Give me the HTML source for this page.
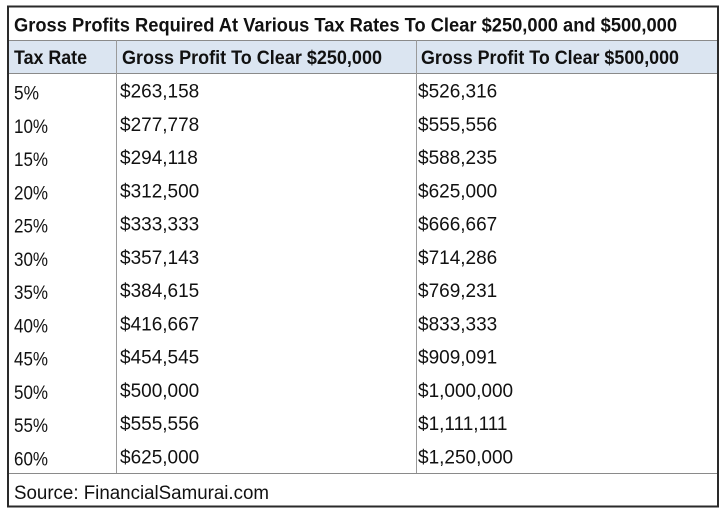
<!DOCTYPE html>
<html><head><meta charset="utf-8"><style>
html,body{margin:0;padding:0;background:#fff;}
svg{display:block;}
text{font-family:"Liberation Sans",sans-serif;fill:#111;}
.b{font-weight:bold;font-size:19.5px;}
.d{font-size:19px;}
</style></head><body>
<svg width="728" height="515" viewBox="0 0 728 515" xmlns="http://www.w3.org/2000/svg">
<rect x="0" y="0" width="728" height="515" fill="#fff"/>
<rect x="9" y="40" width="708" height="33.5" fill="#dbe5f1"/>
<line x1="9" y1="40.5" x2="717" y2="40.5" stroke="#8a8a8a" stroke-width="1"/>
<line x1="9" y1="73.5" x2="717" y2="73.5" stroke="#8a8a8a" stroke-width="1"/>
<line x1="9" y1="473.5" x2="717" y2="473.5" stroke="#8a8a8a" stroke-width="1"/>
<line x1="116.5" y1="40" x2="116.5" y2="473" stroke="#9a9a9a" stroke-width="1"/>
<line x1="416.5" y1="40" x2="416.5" y2="473" stroke="#9a9a9a" stroke-width="1"/>
<rect x="8" y="6.5" width="710" height="500" fill="none" stroke="#2a2a2a" stroke-width="2"/>
<text class="b" x="14" y="31.5" textLength="663" lengthAdjust="spacingAndGlyphs">Gross Profits Required At Various Tax Rates To Clear $250,000 and $500,000</text>
<text class="b" x="14" y="64" textLength="73" lengthAdjust="spacingAndGlyphs">Tax Rate</text>
<text class="b" x="122" y="64" textLength="260" lengthAdjust="spacingAndGlyphs">Gross Profit To Clear $250,000</text>
<text class="b" x="421" y="64" textLength="258" lengthAdjust="spacingAndGlyphs">Gross Profit To Clear $500,000</text>
<g class="d">
<text class="d" x="14" y="99.5" textLength="25" lengthAdjust="spacingAndGlyphs">5%</text><text class="d" x="120" y="97.5">$263,158</text><text class="d" x="418" y="97.5">$526,316</text>
<text class="d" x="14" y="132.8" textLength="34" lengthAdjust="spacingAndGlyphs">10%</text><text class="d" x="120" y="130.8">$277,778</text><text class="d" x="418" y="130.8">$555,556</text>
<text class="d" x="14" y="166" textLength="34" lengthAdjust="spacingAndGlyphs">15%</text><text class="d" x="120" y="164">$294,118</text><text class="d" x="418" y="164">$588,235</text>
<text class="d" x="14" y="199.3" textLength="34" lengthAdjust="spacingAndGlyphs">20%</text><text class="d" x="120" y="197.3">$312,500</text><text class="d" x="418" y="197.3">$625,000</text>
<text class="d" x="14" y="232.6" textLength="34" lengthAdjust="spacingAndGlyphs">25%</text><text class="d" x="120" y="230.6">$333,333</text><text class="d" x="418" y="230.6">$666,667</text>
<text class="d" x="14" y="265.9" textLength="34" lengthAdjust="spacingAndGlyphs">30%</text><text class="d" x="120" y="263.9">$357,143</text><text class="d" x="418" y="263.9">$714,286</text>
<text class="d" x="14" y="299.1" textLength="34" lengthAdjust="spacingAndGlyphs">35%</text><text class="d" x="120" y="297.1">$384,615</text><text class="d" x="418" y="297.1">$769,231</text>
<text class="d" x="14" y="332.4" textLength="34" lengthAdjust="spacingAndGlyphs">40%</text><text class="d" x="120" y="330.4">$416,667</text><text class="d" x="418" y="330.4">$833,333</text>
<text class="d" x="14" y="365.7" textLength="34" lengthAdjust="spacingAndGlyphs">45%</text><text class="d" x="120" y="363.7">$454,545</text><text class="d" x="418" y="363.7">$909,091</text>
<text class="d" x="14" y="398.9" textLength="34" lengthAdjust="spacingAndGlyphs">50%</text><text class="d" x="120" y="396.9">$500,000</text><text class="d" x="418" y="396.9">$1,000,000</text>
<text class="d" x="14" y="432.2" textLength="34" lengthAdjust="spacingAndGlyphs">55%</text><text class="d" x="120" y="430.2">$555,556</text><text class="d" x="418" y="430.2">$1,111,111</text>
<text class="d" x="14" y="465.5" textLength="34" lengthAdjust="spacingAndGlyphs">60%</text><text class="d" x="120" y="463.5">$625,000</text><text class="d" x="418" y="463.5">$1,250,000</text>
</g>
<text class="d" x="14" y="499" textLength="255" lengthAdjust="spacingAndGlyphs">Source: FinancialSamurai.com</text>
</svg>
</body></html>
